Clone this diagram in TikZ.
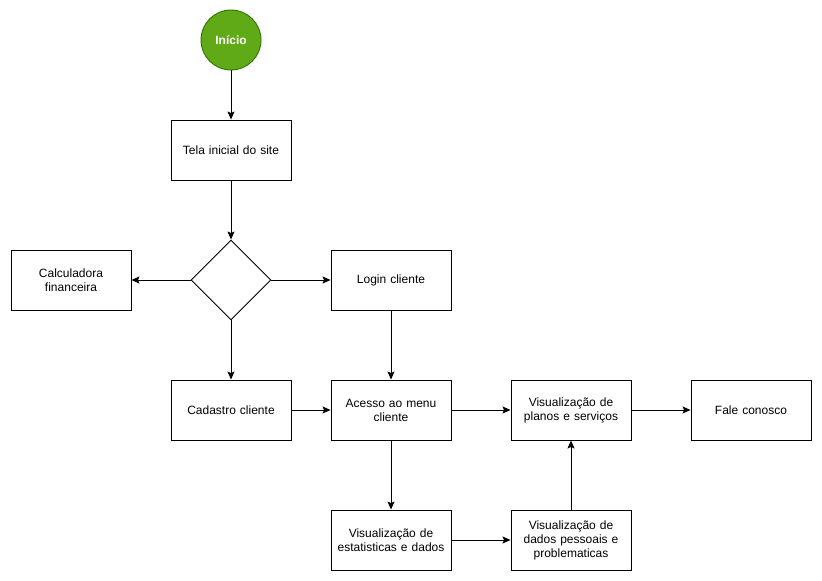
\documentclass[tikz,border=0pt]{standalone}
\usepackage{fontspec}
\setmainfont{Liberation Sans}
\usetikzlibrary{arrows.meta,shapes.geometric}
\definecolor{startfill}{HTML}{60A917}
\definecolor{startline}{HTML}{2D7600}
\begin{document}
\begin{tikzpicture}[x=1pt,y=-1pt,
  every node/.style={font=\fontsize{12}{14}\selectfont},
  box/.style={draw=black,line width=0.9pt,fill=white,minimum width=120pt,minimum height=60pt,align=center,text width=112pt,inner sep=0pt},
  startnode/.style={circle,draw=startline,fill=startfill,line width=0.9pt,minimum size=60pt,inner sep=0pt,text=white,font=\fontsize{12}{14}\selectfont\bfseries},
  decision/.style={diamond,draw=black,fill=white,line width=0.9pt,minimum width=80pt,minimum height=80pt,inner sep=0pt,aspect=1},
  flow/.style={draw=black,line width=0.9pt,-{Stealth[length=8pt,width=7pt,inset=1.5pt]}}]
\useasboundingbox (0,0) rectangle (822,581);
\node[startnode] (inicio) at (231,40) {Início};
\node[box] (tela) at (231,150) {Tela inicial do site};
\node[decision] (dec) at (231,280) {};
\node[box] (calc) at (71,280) {Calculadora\\financeira};
\node[box] (login) at (391,280) {Login cliente};
\node[box] (cad) at (231,410) {Cadastro cliente};
\node[box] (menu) at (391,410) {Acesso ao menu\\cliente};
\node[box] (planos) at (571,410) {Visualização de\\planos e serviços};
\node[box] (fale) at (751,410) {Fale conosco};
\node[box] (estat) at (391,540) {Visualização de\\estatisticas e dados};
\node[box] (pess) at (571,540) {Visualização de\\dados pessoais e\\problematicas};
\draw[flow] (inicio) -- (tela);
\draw[flow] (tela) -- (dec);
\draw[flow] (dec.west) -- (calc);
\draw[flow] (dec.east) -- (login);
\draw[flow] (dec.south) -- (cad);
\draw[flow] (login) -- (menu);
\draw[flow] (cad) -- (menu);
\draw[flow] (menu) -- (planos);
\draw[flow] (planos) -- (fale);
\draw[flow] (menu) -- (estat);
\draw[flow] (estat) -- (pess);
\draw[flow] (pess) -- (planos);
\end{tikzpicture}
\end{document}
